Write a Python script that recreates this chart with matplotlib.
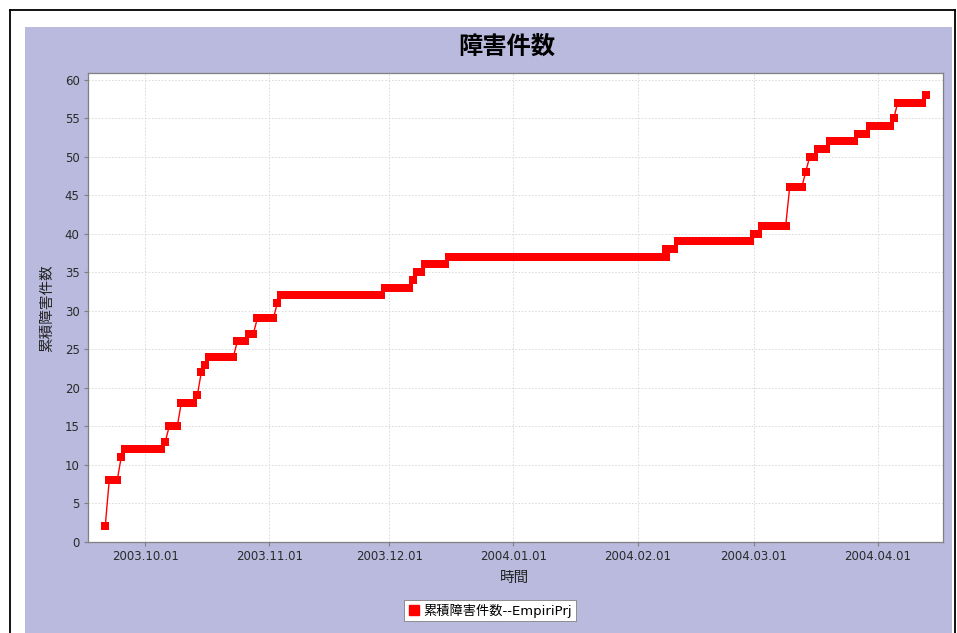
import pandas as pd
import matplotlib
matplotlib.use('Agg')
import matplotlib.pyplot as plt
import matplotlib.dates as mdates
from matplotlib.lines import Line2D
from matplotlib.patches import Rectangle

plt.rcParams['font.family'] = ['DejaVu Sans', 'Noto Sans CJK JP']

values = [2, 8, 11, 12, 13, 15, 18, 19, 22, 23, 24, 26, 27, 29, 31, 32, 33, 34,
          35, 36, 37, 38, 39, 40, 41, 46, 48, 50, 51, 52, 53, 54, 55, 57, 58]
start_dates = ['2003-09-21', '2003-09-22', '2003-09-25', '2003-09-26', '2003-10-06',
               '2003-10-07', '2003-10-10', '2003-10-14', '2003-10-15', '2003-10-16',
               '2003-10-17', '2003-10-24', '2003-10-27', '2003-10-29', '2003-11-03',
               '2003-11-04', '2003-11-30', '2003-12-07', '2003-12-08', '2003-12-10',
               '2003-12-16', '2004-02-08', '2004-02-11', '2004-03-01', '2004-03-03',
               '2004-03-10', '2004-03-14', '2004-03-15', '2004-03-17', '2004-03-20',
               '2004-03-27', '2004-03-30', '2004-04-05', '2004-04-06', '2004-04-13']
end_dates = ['2003-09-21', '2003-09-24', '2003-09-25', '2003-10-05', '2003-10-06',
             '2003-10-09', '2003-10-13', '2003-10-14', '2003-10-15', '2003-10-16',
             '2003-10-23', '2003-10-26', '2003-10-28', '2003-11-02', '2003-11-03',
             '2003-11-29', '2003-12-06', '2003-12-07', '2003-12-09', '2003-12-15',
             '2004-02-08', '2004-02-10', '2004-02-29', '2004-03-02', '2004-03-09',
             '2004-03-13', '2004-03-14', '2004-03-16', '2004-03-19', '2004-03-26',
             '2004-03-29', '2004-04-04', '2004-04-05', '2004-04-12', '2004-04-13']

title = '障害件数'
y_title = '累積障害件数'
x_title = '時間'
series_name = '累積障害件数--EmpiriPrj'

dates, counts = [], []
for v, s, e in zip(values, start_dates, end_dates):
    for d in pd.date_range(s, e, freq='D'):
        dates.append(d)
        counts.append(v)

W, H = 957, 633
fig = plt.figure(figsize=(W / 100, H / 100), dpi=100)
fig.patch.set_facecolor('white')

fx = lambda px: px / W
fy = lambda py: 1 - py / H

# chart background + outer frame
fig.add_artist(Rectangle((fx(25), 0), fx(952) - fx(25), fy(27),
                         transform=fig.transFigure, facecolor='#b9badd',
                         edgecolor='none', zorder=0))
for xs, ys in [([fx(10), fx(955)], [fy(10), fy(10)]),
               ([fx(10), fx(10)], [fy(10), 0]),
               ([fx(955), fx(955)], [fy(10), 0])]:
    fig.add_artist(Line2D(xs, ys, transform=fig.transFigure, color='black', lw=1.3))

ax = fig.add_axes([fx(88), fy(541.7), fx(943) - fx(88), fy(72.7) - fy(541.7)])
ax.set_facecolor('white')
ax.plot(dates, counts, color='red', lw=1, marker='s', ms=5.6, mec='red', mew=0)

ax.set_ylim(0, max(counts) * 1.05)
ax.set_yticks(range(0, 61, 5))
ax.xaxis.set_major_locator(mdates.MonthLocator(bymonthday=1))
ax.xaxis.set_major_formatter(mdates.DateFormatter('%Y.%m.%d'))
ax.margins(x=0.021)

ax.grid(True, color='#d6d6d6', lw=0.6, ls=(0, (2, 2)))
ax.set_axisbelow(True)
for border in ['top', 'right', 'left', 'bottom']:
    ax.spines[border].set_color('#808080')
    ax.spines[border].set_linewidth(0.9)
ax.tick_params(labelsize=8.5, length=3, color='#808080', width=0.8, pad=3,
               labelcolor='#2a2a2a')

fig.text(fx(507), fy(47), title, fontsize=17.5, fontweight='bold',
         ha='center', va='center')
fig.text(fx(47), fy(308), y_title, rotation=90, fontsize=10.5,
         ha='center', va='center', color='#222222')
fig.text(fx(515), fy(577), x_title, fontsize=10.5, ha='center', va='center',
         color='#222222')

handle = Line2D([], [], marker='s', color='red', ls='none', ms=7)
leg = fig.legend(handles=[handle], labels=[series_name], loc='center',
                 bbox_to_anchor=(fx(490), fy(610.5)), frameon=True, fancybox=False,
                 edgecolor='#808080', framealpha=1, fontsize=9.5, handlelength=0.8,
                 handletextpad=0.3, borderpad=0.3, borderaxespad=0)
leg.get_frame().set_linewidth(0.6)

fig.savefig('out.png', dpi=100)
